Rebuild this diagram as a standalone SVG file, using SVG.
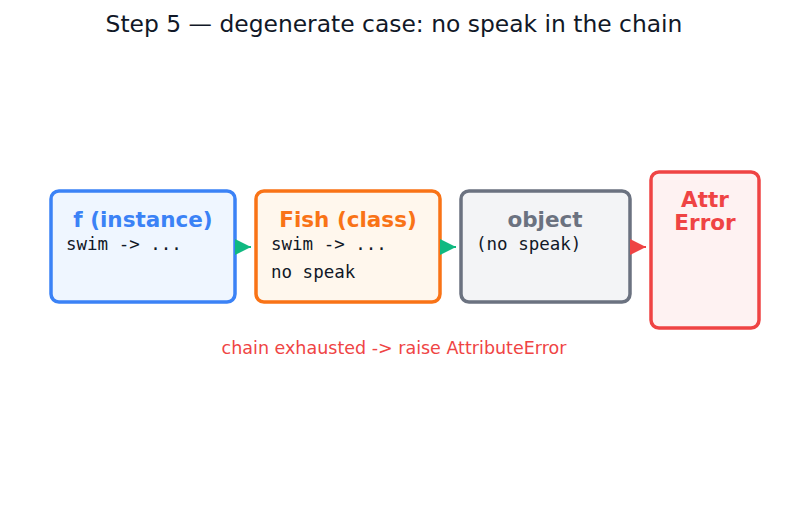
<svg xmlns="http://www.w3.org/2000/svg" width="787" height="510" viewBox="0 0 787 510">
<style>
.box{stroke-width:3.5}
.ttl{font-family:"DejaVu Sans",sans-serif;font-weight:bold;font-size:21.5px;text-anchor:middle}
.code{font-family:"DejaVu Sans Mono",monospace;font-size:17.5px;fill:#111827}
.conn{stroke-width:2;fill:none}
</style>
<defs>
<marker id="ag" viewBox="0 0 16 16" refX="16" refY="8" markerWidth="16" markerHeight="16" markerUnits="userSpaceOnUse" orient="auto"><path d="M0,0 L16,8 L0,16 Z" fill="#10b981"/></marker>
<marker id="ar" viewBox="0 0 16 16" refX="16" refY="8" markerWidth="16" markerHeight="16" markerUnits="userSpaceOnUse" orient="auto"><path d="M0,0 L16,8 L0,16 Z" fill="#ef4444"/></marker>
</defs>
<rect width="787" height="510" fill="#ffffff"/>
<text x="394" y="32" text-anchor="middle" font-family="DejaVu Sans,sans-serif" font-size="23.4" fill="#111827">Step 5 — degenerate case: no speak in the chain</text>
<g id="n-f">
<rect class="box" x="51" y="191" width="184" height="111" rx="8" fill="#eff6ff" stroke="#3b82f6"/>
<text class="ttl" x="143" y="227" fill="#3b82f6">f (instance)</text>
<text class="code" x="66" y="250">swim -&gt; ...</text>
</g>
<g id="n-fish">
<rect class="box" x="256" y="191" width="184" height="111" rx="8" fill="#fff7ed" stroke="#f97316"/>
<text class="ttl" x="348" y="227" fill="#f97316">Fish (class)</text>
<text class="code" x="271" y="250">swim -&gt; ...</text>
<text class="code" x="271" y="278">no speak</text>
</g>
<g id="n-object">
<rect class="box" x="461" y="191" width="169" height="111" rx="8" fill="#f3f4f6" stroke="#6b7280"/>
<text class="ttl" x="545" y="227" fill="#6b7280">object</text>
<text class="code" x="476" y="250">(no speak)</text>
</g>
<g id="n-error">
<rect class="box" x="651" y="172" width="108" height="156" rx="8" fill="#fef2f2" stroke="#ef4444"/>
<text class="ttl" fill="#ef4444"><tspan x="705" y="207">Attr</tspan><tspan x="705" y="230">Error</tspan></text>
</g>
<g id="connectors">
<path class="conn" d="M236,247 L251,247" stroke="#10b981" marker-end="url(#ag)"/>
<path class="conn" d="M441,247 L456,247" stroke="#10b981" marker-end="url(#ag)"/>
<path class="conn" d="M631,247 L646,247" stroke="#ef4444" marker-end="url(#ar)"/>
</g>
<text x="394" y="354" text-anchor="middle" font-family="DejaVu Sans,sans-serif" font-size="17.5" fill="#ef4444">chain exhausted -&gt; raise AttributeError</text>
</svg>
